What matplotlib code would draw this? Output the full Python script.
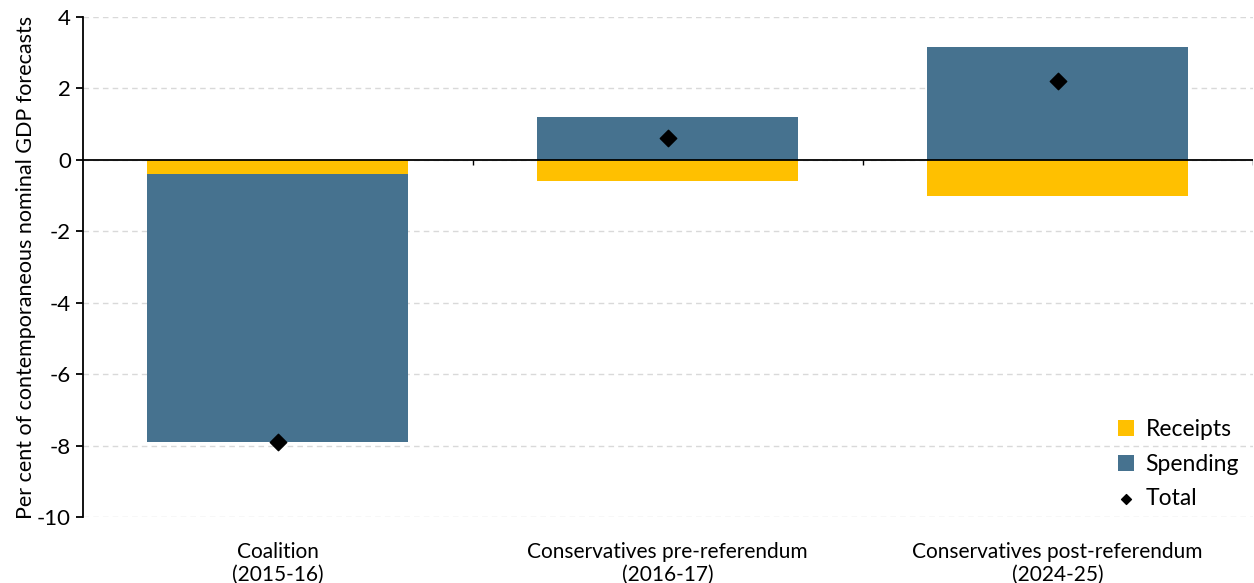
import matplotlib.pyplot as plt
import numpy as np

# --- Data ---
categories = ["Coalition\n(2015-16)", "Conservatives pre-referendum\n(2016-17)",
              "Conservatives post-referendum\n(2024-25)"]
receipts = [-0.4, -0.6, -1.0]
spending = [-7.5, 1.2, 3.15]
total = [-7.9, 0.6, 2.2]

col_receipts = "#FFC000"
col_spending = "#46728F"

plt.rcParams["font.family"] = ["Lato", "DejaVu Sans"]
plt.rcParams["axes.unicode_minus"] = False

fig, ax = plt.subplots(figsize=(12.54, 5.83), dpi=100)
fig.subplots_adjust(left=0.066, right=0.999, top=0.971, bottom=0.113)

x = np.arange(len(categories))
w = 0.67

# spending stacks on receipts when both are negative, otherwise starts at zero
spend_base = [r if s < 0 else 0 for r, s in zip(receipts, spending)]

ax.bar(x, receipts, width=w, color=col_receipts, label="Receipts", zorder=2)
ax.bar(x, spending, width=w, bottom=spend_base, color=col_spending, label="Spending", zorder=2)
ax.scatter(x, total, marker="D", s=70, color="black", label="Total", zorder=4)

ax.axhline(0, color="black", linewidth=1.3, zorder=3)
ax.vlines([0.5, 1.5, 2.5], -0.15, 0, color="black", linewidth=1.0, zorder=3)

ax.set_xlim(-0.5, 2.5)
ax.set_ylim(-10, 4)
ax.set_yticks(range(-10, 5, 2))
ax.set_xticks(x)
ax.set_xticklabels(categories, fontsize=15)
ax.tick_params(axis="x", length=0, pad=18)
ax.tick_params(axis="y", labelsize=16, length=5, width=1.3, direction="out")

ax.grid(axis="y", color="#d9d9d9", linestyle=(0, (4, 3)), linewidth=1.0, zorder=0)
ax.set_axisbelow(True)

for side in ["top", "right", "bottom"]:
    ax.spines[side].set_visible(False)
ax.spines["left"].set_linewidth(1.3)

ax.set_ylabel("Per cent of contemporaneous nominal GDP forecasts", fontsize=15.5, labelpad=1)

handles, labels = ax.get_legend_handles_labels()
order = [labels.index(n) for n in ["Receipts", "Spending", "Total"]]
leg = ax.legend([handles[i] for i in order], [labels[i] for i in order],
                loc="lower right", bbox_to_anchor=(1.0, -0.012), frameon=False,
                fontsize=16.5, handlelength=0.7, handleheight=0.7, handletextpad=0.5,
                labelspacing=0.6, borderaxespad=0.2, markerscale=0.6)

fig.savefig("out.png", dpi=100)
